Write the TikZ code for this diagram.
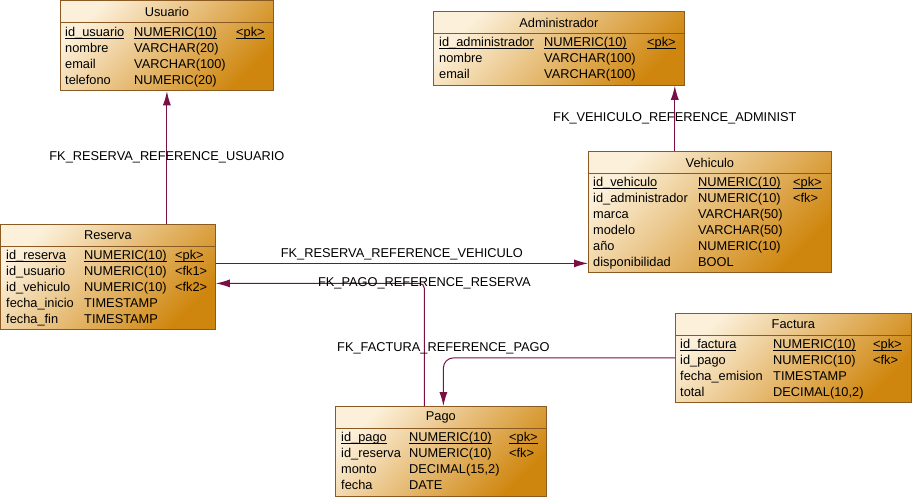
\documentclass[tikz,border=0pt]{standalone}
\usepackage{fontspec}
\setmainfont{Liberation Sans}
\usepackage{tikz}
\usetikzlibrary{arrows.meta, positioning}
\tikzset{>/.tip={Latex[length=14pt,width=8pt]}}
\definecolor{tblclaro}{HTML}{FCF0DA}
\definecolor{tbloscuro}{HTML}{CF860E}
\definecolor{tblborde}{HTML}{8A5A22}
\definecolor{fkcolor}{HTML}{7A0F45}
\tikzset{tabla/.style={draw=tblborde, line width=0.8pt, top color=tblclaro, bottom color=tbloscuro, shading angle=45, anchor=north west, inner sep=0pt}}
\tikzset{borde/.style={draw=tblborde, line width=0.8pt}}
\tikzset{cabecera/.style={inner sep=0pt}}
\tikzset{campos/.style={anchor=north west, inner sep=0pt}}
\tikzset{etiqueta/.style={inner sep=0pt}}
\tikzset{fk/.style={draw=fkcolor, line width=1pt, ->}}
\newcommand\subr[1]{\leavevmode\setbox0\hbox{#1}\rlap{\rule[-2.2pt]{\wd0}{0.7pt}}\box0}

\begin{document}
\begin{tikzpicture}[x=1pt, y=-1pt, font=\fontsize{12.8}{16}\selectfont]
\useasboundingbox (0,0) rectangle (912,497);
% tablas
\draw node(usuario) [tabla, minimum width=213pt, minimum height=90pt] at (60,0.5) {};
\draw node(administrador) [tabla, minimum width=251pt, minimum height=74pt] at (433,11) {};
\draw node(vehiculo) [tabla, minimum width=243pt, minimum height=121pt] at (588,151) {};
\draw node(reserva) [tabla, minimum width=215pt, minimum height=105pt] at (0,224) {};
\draw node(factura) [tabla, minimum width=236pt, minimum height=89pt] at (675,313) {};
\draw node(pago) [tabla, minimum width=211pt, minimum height=90pt] at (335,406) {};
\foreach \t in {usuario, administrador, vehiculo, reserva, factura, pago}
  \draw[borde] ([yshift=-22pt]\t.north west) -- ([yshift=-22pt]\t.north east);
% cabeceras
\draw node(usuario-t) [cabecera] at ([yshift=-11.5pt]usuario.north) {Usuario};
\draw node(administrador-t) [cabecera] at ([yshift=-11.5pt]administrador.north) {Administrador};
\draw node(vehiculo-t) [cabecera] at ([yshift=-11.5pt]vehiculo.north) {Vehiculo};
\draw node(reserva-t) [cabecera] at ([yshift=-11.5pt]reserva.north) {Reserva};
\draw node(factura-t) [cabecera] at ([yshift=-11.5pt]factura.north) {Factura};
\draw node(pago-t) [cabecera] at ([yshift=-11.5pt]pago.north) {Pago};
% columnas
\draw node(usuario-c) [campos] at ([xshift=5pt, yshift=-24.5pt]usuario.north west) {%
\begin{tabular}{@{}p{69pt}@{}p{102pt}@{}l@{}}
\subr{id\_usuario} & \subr{NUMERIC(10)} & \subr{<pk>}\\
nombre & VARCHAR(20) & \\
email & VARCHAR(100) & \\
telefono & NUMERIC(20) &
\end{tabular}};
\draw node(administrador-c) [campos] at ([xshift=6pt, yshift=-24.5pt]administrador.north west) {%
\begin{tabular}{@{}p{105pt}@{}p{103pt}@{}l@{}}
\subr{id\_administrador} & \subr{NUMERIC(10)} & \subr{<pk>}\\
nombre & VARCHAR(100) & \\
email & VARCHAR(100) &
\end{tabular}};
\draw node(vehiculo-c) [campos] at ([xshift=5pt, yshift=-24.5pt]vehiculo.north west) {%
\begin{tabular}{@{}p{105pt}@{}p{95pt}@{}l@{}}
\subr{id\_vehiculo} & \subr{NUMERIC(10)} & \subr{<pk>}\\
id\_administrador & NUMERIC(10) & <fk>\\
marca & VARCHAR(50) & \\
modelo & VARCHAR(50) & \\
año & NUMERIC(10) & \\
disponibilidad & BOOL &
\end{tabular}};
\draw node(reserva-c) [campos] at ([xshift=6pt, yshift=-24.5pt]reserva.north west) {%
\begin{tabular}{@{}p{78pt}@{}p{91pt}@{}l@{}}
\subr{id\_reserva} & \subr{NUMERIC(10)} & \subr{<pk>}\\
id\_usuario & NUMERIC(10) & <fk1>\\
id\_vehiculo & NUMERIC(10) & <fk2>\\
fecha\_inicio & TIMESTAMP & \\
fecha\_fin & TIMESTAMP &
\end{tabular}};
\draw node(factura-c) [campos] at ([xshift=5pt, yshift=-24.5pt]factura.north west) {%
\begin{tabular}{@{}p{93pt}@{}p{100pt}@{}l@{}}
\subr{id\_factura} & \subr{NUMERIC(10)} & \subr{<pk>}\\
id\_pago & NUMERIC(10) & <fk>\\
fecha\_emision & TIMESTAMP & \\
total & DECIMAL(10,2) &
\end{tabular}};
\draw node(pago-c) [campos] at ([xshift=6pt, yshift=-24.5pt]pago.north west) {%
\begin{tabular}{@{}p{68pt}@{}p{100pt}@{}l@{}}
\subr{id\_pago} & \subr{NUMERIC(10)} & \subr{<pk>}\\
id\_reserva & NUMERIC(10) & <fk>\\
monto & DECIMAL(15,2) & \\
fecha & DATE &
\end{tabular}};
% referencias
\coordinate (adm-fk) at ([xshift=-10pt]administrador.south east);
\coordinate (res-veh) at ([yshift=13.5pt]reserva.east);
\coordinate (res-pag) at ([yshift=-6.5pt]reserva.east);
\coordinate (pag-res) at ([xshift=-16.5pt]pago.north);
\coordinate (pag-fac) at ([xshift=2.5pt]pago.north);
\draw[fk] (usuario.south |- reserva.north) -- node(fk-usuario) [etiqueta] {FK\_RESERVA\_REFERENCE\_USUARIO} (usuario.south);
\draw[fk] (adm-fk |- vehiculo.north) -- node(fk-administrador) [etiqueta] {FK\_VEHICULO\_REFERENCE\_ADMINIST} (adm-fk);
\draw[fk] (res-veh) -- node(fk-vehiculo) [etiqueta, yshift=9pt] {FK\_RESERVA\_REFERENCE\_VEHICULO} (res-veh -| vehiculo.west);
\draw[fk, rounded corners=5pt] (pag-res) |- node(fk-reserva) [etiqueta] {FK\_PAGO\_REFERENCE\_RESERVA} (res-pag);
\draw[fk, rounded corners=10pt] (factura.west) -| node(fk-pago) [etiqueta, yshift=10pt] {FK\_FACTURA\_REFERENCE\_PAGO} (pag-fac);
\end{tikzpicture}
\end{document}
